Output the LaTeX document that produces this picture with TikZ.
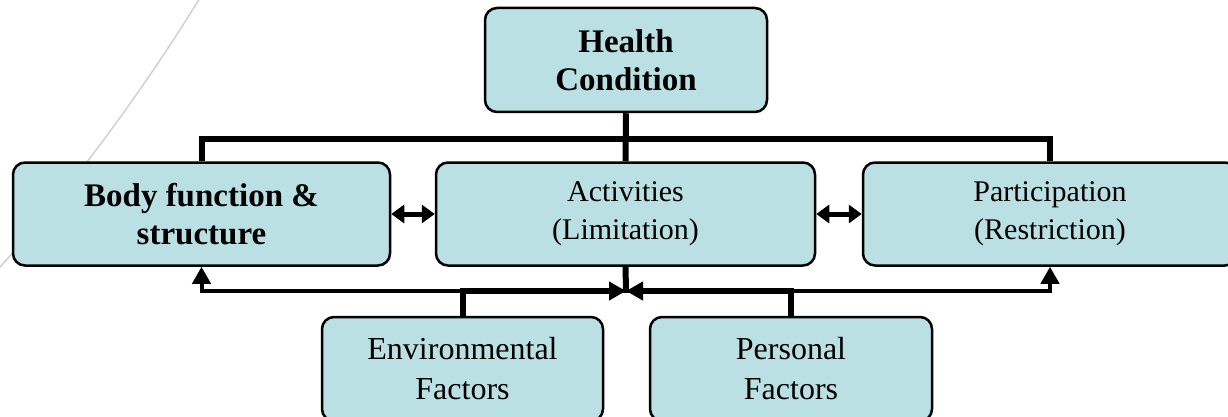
\documentclass[tikz,border=0pt]{standalone}
\usepackage{fontspec}
\setmainfont{Liberation Serif}
\usetikzlibrary{arrows.meta}
\definecolor{boxfill}{RGB}{187,224,227}

\begin{document}
\begin{tikzpicture}[x=1pt,y=-1pt]
                    \tikzstyle{every node}+=[inner sep=0pt]
                    \tikzstyle{icfbox}=[draw=black, line width=2.5pt, fill=boxfill, rounded corners=12pt, align=center, font={\fontsize{30}{38}\selectfont}]
                    \tikzstyle{headbox}=[icfbox, font={\fontsize{33}{38}\selectfont\bfseries}]
                    \tikzstyle{factbox}=[icfbox, font={\fontsize{32}{40}\selectfont}]
                    \tikzstyle{link}=[black, line width=6pt]
                    \tikzstyle{thinlink}=[black, line width=4pt]
                    \clip (0,0) rectangle (1228,417);
                    \draw [black!18, line width=1.5pt] (200,-2) .. controls (140,95) and (70,190) .. (-8,276);
                    % boxes
                    \node [headbox, minimum width=282pt, minimum height=104pt] (health) at (626,60) {Health\\Condition};
                    \node [headbox, minimum width=377pt, minimum height=103pt] (body) at (201.5,214) {Body function \&\\structure};
                    \node [icfbox, minimum width=379pt, minimum height=103pt] (activ) at (625.5,214) {Activities\\(Limitation)};
                    \node [icfbox, minimum width=374pt, minimum height=103pt] (partic) at (1050,214) {Participation\\(Restriction)};
                    \node [factbox, minimum width=281pt, minimum height=104pt] (env) at (462.5,369) {Environmental\\Factors};
                    \node [factbox, minimum width=282pt, minimum height=104pt] (pers) at (791,369) {Personal\\Factors};
                    \coordinate (topbar) at (626,139);
                    \coordinate (hub) at (626,291);
                    % upper links
                    \draw [link] (health.south) -- (activ.north);
                    \draw [link, line join=miter] (body.north) -- (body.north |- topbar) -- (partic.north |- topbar) -- (partic.north);
                    \draw [line width=5pt, {Triangle[length=13pt,width=18pt]}-{Triangle[length=13pt,width=18pt]}] (body.east) -- (activ.west);
                    \draw [line width=5pt, {Triangle[length=13pt,width=18pt]}-{Triangle[length=13pt,width=18pt]}] (activ.east) -- (partic.west);
                    % lower links
                    \draw [link] (activ.south) -- (hub);
                    \draw [thinlink, {Triangle[length=17pt,width=18pt]}-{Triangle[length=17pt,width=18pt]}] (body.south) |- (hub) -| (partic.south);
                    \draw [link, -{Triangle[length=17pt,width=18pt]}] (env.north) |- (hub);
                    \draw [link, -{Triangle[length=17pt,width=18pt]}] (pers.north) |- (hub);
\end{tikzpicture}
\end{document}
